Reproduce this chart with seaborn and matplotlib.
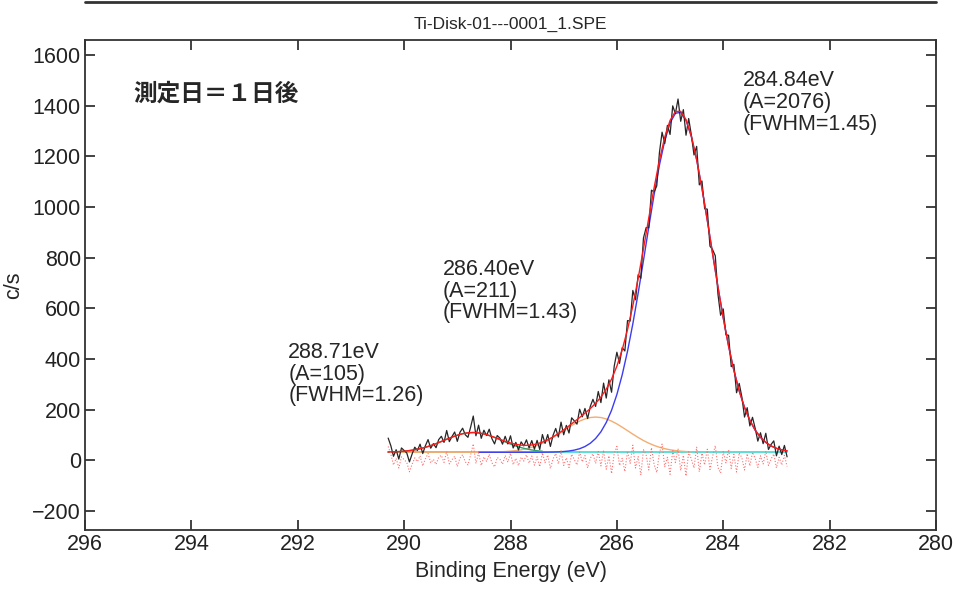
import numpy as np
import pandas as pd
import matplotlib
matplotlib.use("Agg")
import matplotlib.pyplot as plt
import seaborn as sns
from matplotlib.lines import Line2D

# ------------------- data -------------------
file_name = "Ti-Disk-01---0001_1.SPE"
sample_label = "測定日＝１日後"

# fitted peaks (values printed on the chart)
peak_center = [284.84, 286.40, 288.71]
peak_area = [2076, 211, 105]
peak_fwhm = [1.45, 1.43, 1.26]

# energy sampling of the measured spectrum (0.05 eV) and of the fit (0.1 eV)
energy_start, energy_end = 290.30, 282.80
raw_energy = np.linspace(energy_start, energy_end, 151)
fit_energy = np.linspace(energy_start, energy_end, 76)

raw_counts = [
    88, 58, 16, 42, 5, 49, 39, 29, -6, 25,
    52, 39, 64, 27, 58, 82, 48, 66, 50, 82,
    95, 71, 118, 74, 94, 112, 75, 111, 127, 101,
    91, 131, 175, 97, 139, 87, 119, 98, 123, 86,
    65, 98, 88, 64, 95, 65, 97, 49, 71, 41,
    73, 57, 81, 49, 78, 44, 79, 43, 102, 67,
    102, 55, 99, 126, 92, 151, 101, 138, 108, 168,
    156, 143, 202, 172, 205, 165, 213, 241, 213, 272,
    228, 305, 246, 318, 269, 372, 427, 383, 445, 432,
    552, 550, 671, 634, 733, 719, 878, 919, 919, 1067,
    1060, 1084, 1215, 1296, 1251, 1323, 1287, 1400, 1369, 1427,
    1339, 1385, 1284, 1350, 1285, 1206, 1240, 1088, 1103, 994,
    992, 846, 832, 808, 657, 573, 598, 496, 494, 370,
    379, 267, 304, 250, 171, 208, 136, 170, 127, 76,
    109, 66, 107, 43, 63, 77, 18, 56, 23, 59,
    14,
]

residual = [
    55, 25, -18, 8, -30, 14, 3, -8, -45, -15,
    10, -5, 18, -22, 6, 27, -10, 4, -16, 12,
    20, -8, 35, -14, 2, 16, -24, 9, 22, -6,
    -18, 21, 65, -12, 30, -20, 14, -4, 24, -9,
    -26, 11, 5, -15, 19, -7, 28, -17, 8, -21,
    13, -3, 22, -11, 17, -19, 14, -25, 30, -9,
    21, -32, 6, 27, -14, 38, -20, 10, -28, 24,
    3, -18, 33, -6, 19, -30, 8, 26, -12, 35,
    -22, 40, -35, 18, -52, 27, 55, -20, 8, -44,
    36, -12, 60, -30, 15, -58, 42, 22, -38, 50,
    -16, -48, 30, 64, -25, 12, -55, 38, -8, 46,
    -40, 20, -62, 34, 5, -30, 52, -45, 28, -18,
    44, -36, 16, 58, -28, -50, 35, -10, 42, -32,
    24, -46, 30, 10, -38, 26, -22, 32, 8, -28,
    18, -14, 36, -20, 6, 25, -30, 12, -18, 20,
    -24,
]

background = 32

peak1 = [
    0, 0, 0, 0, 0, 0, 0, 0, 0, 0,
    0, 0, 0, 0, 0, 0, 0, 0, 0, 0,
    0, 0, 0, 0, 0, 0, 0, 0, 0.1, 0.3,
    0.5, 0.9, 1.6, 2.9, 5.0, 8.5, 14.0, 22.6, 35.5, 54.3,
    80.9, 117.4, 165.7, 228.0, 305.6, 398.9, 507.2, 628.0, 757.2, 889.5,
    1017.5, 1133.7, 1230.3, 1300.4, 1338.7, 1342.2, 1310.7, 1246.7, 1154.8, 1042.0,
    915.7, 783.7, 653.3, 530.5, 419.5, 323.1, 242.4, 177.0, 126.0, 87.3,
    58.9, 38.8, 24.8, 15.5, 9.4, 5.6,
]
peak2 = [
    0, 0, 0, 0, 0, 0, 0, 0, 0, 0,
    0, 0, 0, 0, 0, 0, 0, 0.1, 0.35, 0.6,
    1.0, 1.7, 2.8, 4.3, 6.6, 9.7, 14.1, 19.7, 26.9, 35.8,
    46.3, 58.4, 71.5, 85.3, 99.0, 111.9, 123.0, 131.7, 137.1, 139.0,
    137.1, 131.7, 123.0, 111.9, 99.0, 85.3, 71.5, 58.4, 46.3, 35.8,
    26.9, 19.7, 14.1, 9.7, 6.6, 4.3, 2.8, 1.7, 1.0, 0.6,
    0.3, 0.2, 0.1, 0, 0, 0, 0, 0, 0, 0,
    0, 0, 0, 0, 0, 0,
]
peak3 = [
    0.9, 1.6, 2.7, 4.3, 6.6, 9.8, 14.1, 19.6, 26.2, 34.0,
    42.5, 51.3, 59.8, 67.3, 73.2, 76.9, 78.0, 76.4, 72.2, 65.9,
    58.2, 49.5, 40.7, 32.3, 24.8, 18.4, 13.1, 9.1, 6.0, 3.9,
    2.5, 1.5, 0.9, 0.5, 0.3, 0.2, 0.1, 0, 0, 0,
    0, 0, 0, 0, 0, 0, 0, 0, 0, 0,
    0, 0, 0, 0, 0, 0, 0, 0, 0, 0,
    0, 0, 0, 0, 0, 0, 0, 0, 0, 0,
    0, 0, 0, 0, 0, 0,
]

# energy window in which each component line is drawn
peak1_window = (288.6, 282.8)
peak2_window = (290.3, 284.6)
peak3_window = (290.3, 287.4)

# ------------------- figure -------------------
sns.set_theme(style="ticks")
plt.rcParams["font.family"] = ["Liberation Sans", "Noto Sans CJK JP", "DejaVu Sans"]
plt.rcParams["axes.linewidth"] = 1.3

fig = plt.figure(figsize=(9.55, 5.97), dpi=100)
ax = fig.add_axes([85 / 955, 1 - 530 / 597, (936 - 85) / 955, (530 - 40) / 597])

fit = pd.DataFrame({
    "energy": fit_energy,
    "p1": np.array(peak1) + background,
    "p2": np.array(peak2) + background,
    "p3": np.array(peak3) + background,
})
fit["bg"] = background
fit["envelope"] = background + np.array(peak1) + np.array(peak2) + np.array(peak3)

raw = pd.DataFrame({"energy": raw_energy, "counts": raw_counts, "resid": residual})


def in_window(df, window):
    hi, lo = window
    return df[(df["energy"] <= hi + 1e-6) & (df["energy"] >= lo - 1e-6)]


sns.lineplot(data=fit, x="energy", y="bg", ax=ax, color="#40d8d0", lw=1.2, sort=False)
w = in_window(fit, peak2_window)
sns.lineplot(data=w, x="energy", y="p2", ax=ax, color="#f2ad72", lw=1.0, sort=False)
w = in_window(fit, peak1_window)
sns.lineplot(data=w, x="energy", y="p1", ax=ax, color="#3c3cf0", lw=1.0, sort=False)
w = in_window(fit, peak3_window)
sns.lineplot(data=w, x="energy", y="p3", ax=ax, color="#2fa36b", lw=1.0, sort=False)
sns.lineplot(data=raw, x="energy", y="counts", ax=ax, color="#262626", lw=0.9, sort=False)
sns.lineplot(data=fit, x="energy", y="envelope", ax=ax, color="#ff1a1a", lw=1.0, sort=False)
sns.lineplot(data=raw, x="energy", y="resid", ax=ax, color="#ff6f6f", lw=0.8,
             linestyle=":", sort=False)

ax.set_xlim(296, 280)
ax.set_ylim(-275, 1660)
ax.set_xticks(np.arange(296, 279, -2))
ax.set_yticks(np.arange(-200, 1601, 200))
ax.set_yticklabels([f"{v:d}".replace("-", "\u2212") for v in range(-200, 1601, 200)])
ax.tick_params(direction="in", length=7, width=1.2, labelsize=15.5, pad=3,
               top=True, right=True, colors="#222222")
for sp in ax.spines.values():
    sp.set_color("#333333")

ax.set_xlabel("Binding Energy (eV)", fontsize=15.5, labelpad=4)
ax.set_ylabel("c/s", fontsize=15.5, labelpad=6)
ax.set_title(file_name, fontsize=12.5, pad=8)

# peak labels
label_pos = [(283.63, 1540), (289.27, 796), (292.18, 468)]
for (lx, ly), c, a, f in zip(label_pos, peak_center, peak_area, peak_fwhm):
    ax.text(lx, ly, f"{c:.2f}eV\n(A={a})\n(FWHM={f:.2f})", fontsize=15.5,
            ha="left", va="top", linespacing=1.05)

ax.text(295.1, 1445, sample_label, fontsize=17, fontweight="bold",
        ha="left", va="center")

# thin frame line above the title
fig.add_artist(Line2D([85 / 955, 936 / 955], [1 - 1.5 / 597, 1 - 1.5 / 597],
                      color="#333333", lw=2))

fig.savefig("out.png", dpi=100)
